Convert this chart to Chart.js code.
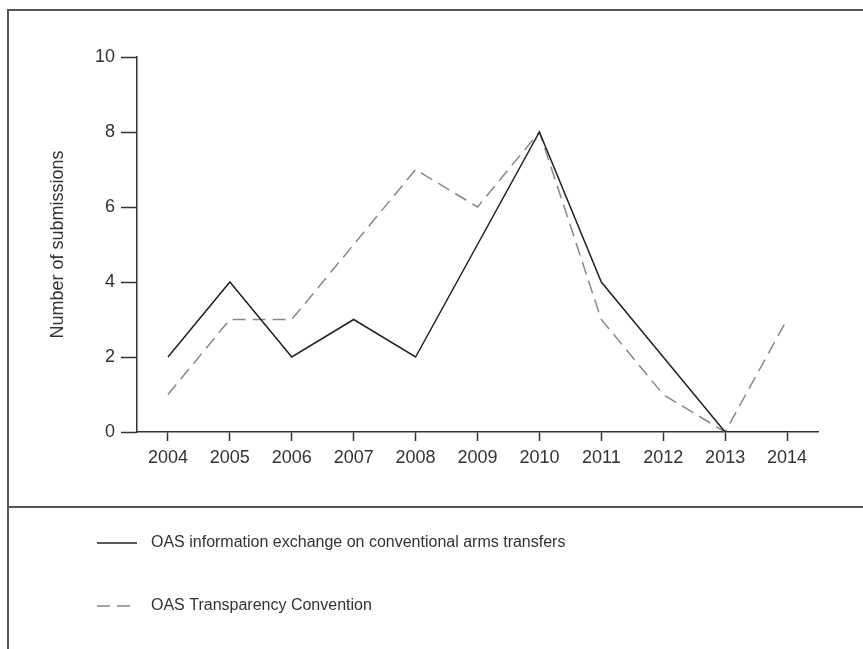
<!DOCTYPE html>
<html>
<head>
<meta charset="utf-8">
<script src="https://cdn.jsdelivr.net/npm/chart.js@4/dist/chart.umd.min.js"></script>
<style>
  html, body { margin: 0; padding: 0; background: #fff; }
  #wrap { width: 863px; height: 649px; position: relative; }
</style>
</head>
<body>
<div id="wrap"><canvas id="subChart" width="863" height="649"></canvas></div>
<script>
// Submissions per year
const years = ['2004', '2005', '2006', '2007', '2008', '2009', '2010', '2011', '2012', '2013', '2014'];
const infoExchange = [2, 4, 2, 3, 2, 5, 8, 4, 2, 0, 0];
const transparency = [1, 3, 3, 5, 7, 6, 8, 3, 1, 0, 3];
const seriesNames = [
  'OAS information exchange on conventional arms transfers',
  'OAS Transparency Convention'
];
const yTicks = [0, 2, 4, 6, 8, 10];

const textColor = '#333';
const family = 'Liberation Sans, Arial, sans-serif';
const font = { family: family, size: 18 };

// frame lines + legend drawn under the chart
const framePlugin = {
  id: 'frame',
  afterDraw(chart) {
    const c = chart.ctx;
    c.save();
    c.strokeStyle = '#555';
    c.lineWidth = 2;
    c.beginPath();
    c.moveTo(8, 649); c.lineTo(8, 10); c.lineTo(863, 10);
    c.moveTo(8, 507); c.lineTo(863, 507);
    c.stroke();

    chart.data.datasets.forEach((ds, i) => {
      const y = 543 + i * 63;
      c.strokeStyle = ds.borderColor;
      c.lineWidth = ds.borderWidth;
      c.setLineDash(ds.borderDash || []);
      c.beginPath();
      c.moveTo(97, y); c.lineTo(137, y);
      c.stroke();
      c.setLineDash([]);
      c.fillStyle = textColor;
      c.font = '16px ' + family;
      c.textBaseline = 'middle';
      c.fillText(ds.label, 151, y);
    });
    c.restore();
  }
};

const ctx = document.getElementById('subChart').getContext('2d');
new Chart(ctx, {
  type: 'line',
  data: {
    labels: years,
    datasets: [
      {
        label: seriesNames[0],
        data: infoExchange,
        borderColor: '#222',
        borderWidth: 1.5,
        pointRadius: 0,
        tension: 0
      },
      {
        label: seriesNames[1],
        data: transparency,
        borderColor: '#888',
        borderWidth: 1.5,
        borderDash: [13, 7],
        pointRadius: 0,
        tension: 0
      }
    ]
  },
  options: {
    responsive: false,
    animation: false,
    layout: { padding: { top: 57, right: 45, bottom: 177, left: 0 } },
    plugins: { legend: { display: false }, tooltip: { enabled: false } },
    scales: {
      x: {
        offset: true,
        grid: { offset: false, drawOnChartArea: false, tickLength: 9, color: '#333', tickWidth: 1.5 },
        border: { color: '#333', width: 1.5 },
        ticks: { color: textColor, font: font, padding: 6, maxRotation: 0 },
        afterFit(scale) { scale.height = 40; }
      },
      y: {
        min: 0,
        max: 10,
        afterBuildTicks(scale) { scale.ticks = yTicks.map(v => ({ value: v })); },
        grid: { drawOnChartArea: false, tickLength: 16, color: '#333', tickWidth: 1.5 },
        border: { color: '#333', width: 1.5 },
        ticks: { color: textColor, font: font, padding: 6 },
        title: {
          display: true,
          text: 'Number of submissions',
          color: textColor,
          font: { family: family, size: 18 },
          padding: { top: 47, bottom: 0 }
        },
        afterFit(scale) { scale.width = 137; }
      }
    }
  },
  plugins: [framePlugin]
});
</script>
</body>
</html>
